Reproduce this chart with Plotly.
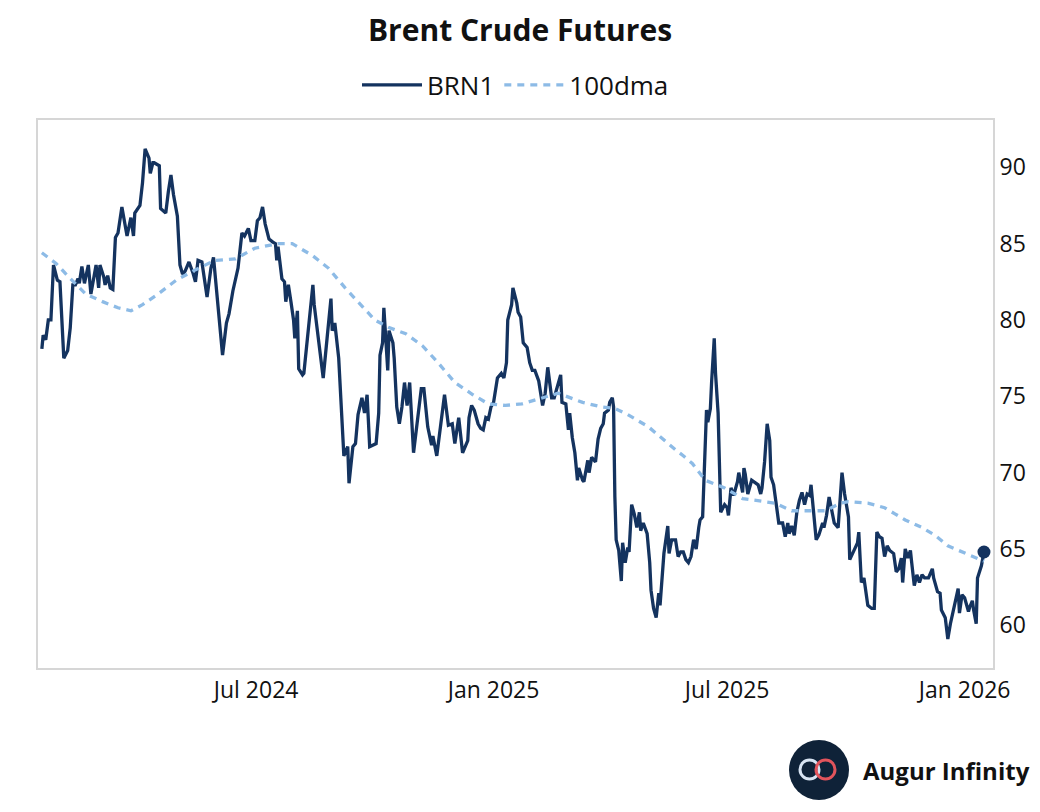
import pandas as pd
import plotly.graph_objects as go

# ---- data ----
# calendar-day offsets from 2024-01-01 for each BRN1 observation
brn_day = [
    16, 17, 19, 21, 23, 25, 28, 30, 33, 36, 38, 40, 42, 44, 45, 47, 49, 52, 54, 56,
    58, 60, 61, 64, 65, 67, 69, 71, 73, 75, 78, 82, 85, 87, 88, 92, 94, 96, 99, 100,
    102, 103, 107, 108, 112, 114, 116, 118, 121, 123, 125, 127, 130, 133, 135, 137, 140, 144, 147, 149,
    152, 156, 159, 161, 164, 166, 168, 171, 173, 176, 178, 181, 183, 185, 187, 189, 192, 195, 197, 198,
    199, 202, 204, 205, 207, 209, 211, 212, 214, 215, 218, 219, 222, 226, 227, 230, 234, 237, 240, 241,
    243, 246, 249, 250, 253, 254, 257, 259, 261, 264, 266, 268, 270, 273, 275, 277, 278, 280, 281, 284,
    285, 288, 289, 291, 293, 295, 297, 299, 301, 304, 307, 310, 312, 315, 318, 319, 322, 325, 328, 331,
    334, 336, 339, 342, 346, 347, 349, 351, 354, 356, 358, 360, 362, 364, 366, 369, 372, 374, 376, 377,
    380, 381, 384, 385, 387, 389, 392, 394, 396, 398, 401, 404, 406, 408, 411, 413, 416, 418, 419, 422,
    424, 425, 427, 429, 431, 432, 435, 436, 439, 440, 442, 445, 447, 449, 451, 452, 455, 456, 458, 459,
    460, 461, 463, 465, 466, 468, 470, 471, 473, 475, 477, 479, 480, 482, 485, 487, 488, 490, 492, 494,
    495, 497, 498, 501, 502, 504, 507, 509, 511, 513, 515, 517, 519, 521, 523, 525, 526, 528, 531, 532,
    534, 535, 537, 538, 540, 542, 545, 547, 548, 550, 552, 555, 556, 559, 560, 561, 563, 566, 569, 571,
    573, 574, 576, 578, 580, 581, 583, 584, 587, 590, 592, 594, 595, 597, 599, 601, 603, 605, 607, 609,
    611, 612, 614, 616, 618, 621, 622, 624, 626, 628, 630, 633, 635, 636, 638, 641, 642, 645, 648, 649,
    651, 653, 656, 659, 661, 663, 665, 667, 669, 671, 673, 676, 678, 680, 682, 683, 685, 687, 689, 690,
    692, 694, 696, 698, 700, 703, 704, 706, 707, 710, 712, 713, 716, 718, 720, 721, 724, 726, 727, 729,
    731, 734, 735, 737, 738, 740, 741, 743, 744, 746,
]
brn_val = [
    78.1, 79.0, 78.7, 80.0, 80.0, 83.6, 82.6, 82.5, 77.5, 78.0, 79.5, 82.3, 82.3, 82.7, 82.4, 83.5, 82.4, 83.6, 81.7, 82.8,
    83.6, 82.1, 83.6, 82.8, 82.3, 82.9, 82.1, 82.0, 85.4, 85.7, 87.4, 85.5, 86.7, 85.5, 87.0, 87.5, 89.0, 91.2, 90.6, 89.6,
    90.3, 90.3, 90.1, 87.3, 87.0, 88.4, 89.5, 88.2, 86.8, 83.6, 83.0, 83.2, 83.8, 83.1, 82.5, 83.9, 83.8, 81.5, 83.4, 84.1,
    81.1, 77.7, 79.8, 80.4, 81.9, 82.7, 83.4, 85.7, 85.5, 86.0, 85.2, 85.2, 86.5, 86.7, 87.4, 86.3, 85.3, 85.1, 85.0, 83.9,
    84.8, 82.7, 82.5, 81.2, 82.3, 81.2, 80.0, 78.8, 80.6, 76.8, 76.4, 76.5, 78.9, 82.3, 81.0, 79.1, 76.2, 78.8, 81.4, 79.3,
    79.8, 77.5, 72.8, 71.1, 71.7, 69.3, 71.7, 71.9, 73.8, 74.9, 73.9, 75.1, 71.7, 71.8, 71.9, 73.9, 77.7, 78.5, 80.8, 76.7,
    79.3, 78.5, 77.5, 74.3, 73.2, 74.3, 75.9, 74.4, 75.9, 71.3, 73.2, 75.5, 75.5, 73.0, 71.8, 72.4, 71.1, 73.0, 75.1, 73.1,
    73.2, 71.9, 73.6, 71.3, 72.1, 73.6, 74.4, 74.1, 73.2, 72.9, 72.8, 73.6, 73.5, 74.3, 74.6, 76.2, 76.5, 76.2, 77.2, 80.0,
    81.0, 82.1, 81.1, 80.5, 80.2, 78.5, 78.2, 77.2, 76.7, 76.7, 76.0, 74.4, 75.2, 76.9, 74.9, 74.9, 75.8, 76.4, 74.6, 74.5,
    72.8, 73.9, 72.3, 71.3, 69.5, 70.3, 69.5, 69.4, 70.8, 70.0, 71.0, 70.7, 72.2, 72.9, 73.2, 73.9, 74.1, 74.6, 74.9, 74.3,
    68.4, 65.6, 64.9, 62.9, 65.4, 64.1, 65.1, 64.8, 67.9, 67.3, 66.4, 67.4, 66.2, 66.7, 66.0, 64.1, 62.3, 61.1, 60.5, 62.1,
    61.3, 63.8, 64.7, 66.5, 64.7, 65.6, 65.6, 64.5, 64.8, 64.8, 64.3, 64.1, 64.5, 65.6, 65.0, 66.4, 66.9, 67.1, 74.1, 73.3,
    74.2, 76.0, 78.8, 76.5, 73.9, 67.4, 67.9, 67.7, 67.2, 69.0, 68.5, 69.4, 70.0, 68.7, 70.3, 69.9, 68.6, 69.5, 69.3, 69.2,
    68.6, 69.0, 70.7, 73.2, 72.1, 69.7, 69.2, 68.6, 66.7, 66.7, 65.8, 66.7, 66.0, 66.5, 65.9, 67.4, 68.2, 68.7, 67.9, 68.6,
    68.5, 69.2, 67.1, 65.6, 65.9, 66.7, 66.4, 67.2, 68.4, 67.4, 66.7, 66.4, 69.0, 70.0, 68.6, 67.1, 64.3, 64.9, 65.4, 66.1,
    62.8, 63.1, 61.3, 61.1, 61.1, 66.1, 65.8, 65.7, 64.5, 65.2, 64.9, 64.7, 63.5, 63.7, 64.4, 62.8, 65.0, 64.4, 64.9, 64.1,
    62.6, 63.3, 62.8, 63.3, 63.1, 63.1, 63.3, 63.7, 63.1, 62.2, 62.1, 61.0, 60.5, 59.1, 60.1, 60.5, 61.8, 62.4, 60.8, 62.0,
    61.8, 60.9, 61.2, 61.6, 61.0, 60.1, 63.1, 63.6, 63.9, 64.8,
]

# 100-day moving average
dma_day = [16, 27, 37, 50, 63, 75, 85, 94, 106, 120, 133, 150, 166, 181, 199, 210, 226, 238, 251, 261,
           274, 285, 298, 311, 323, 336, 350, 362, 375, 388, 404, 416, 435, 450, 460, 470, 486, 501, 507, 513,
           520, 530, 545, 559, 574, 584, 597, 610, 623, 635, 641, 656, 669, 677, 685, 698, 708, 718, 729, 741, 746]
dma_val = [84.4, 83.7, 82.8, 81.7, 81.2, 80.8, 80.6, 81.0, 81.7, 82.6, 83.2, 83.9, 84.0, 84.7, 85.0, 85.0, 84.2, 83.4, 82.1, 81.2,
           80.0, 79.5, 79.1, 78.3, 77.2, 75.9, 75.1, 74.5, 74.4, 74.5, 74.9, 75.2, 74.6, 74.3, 74.2, 73.8, 73.0, 71.9, 71.5, 71.1,
           70.6, 69.5, 69.0, 68.3, 68.1, 68.0, 67.5, 67.5, 67.5, 68.0, 68.1, 68.0, 67.7, 67.3, 66.9, 66.4, 65.9, 65.2, 64.8, 64.4, 64.2]

assert len(brn_day) == len(brn_val)
assert len(dma_day) == len(dma_val)

BASE = pd.Timestamp("2024-01-01")
brn_dates = BASE + pd.to_timedelta(brn_day, unit="D")
dma_dates = BASE + pd.to_timedelta(dma_day, unit="D")

NAVY = "#14335f"
LIGHT = "#8dbbe6"
FONT = "Open Sans"

fig = go.Figure()
fig.add_trace(go.Scatter(x=brn_dates, y=brn_val, mode="lines", name="BRN1",
                         line=dict(color=NAVY, width=3.3)))
fig.add_trace(go.Scatter(x=dma_dates, y=dma_val, mode="lines", name="100dma",
                         line=dict(color=LIGHT, width=3.3, dash="7px,6px")))
fig.add_trace(go.Scatter(x=[brn_dates[-1]], y=[brn_val[-1]], mode="markers", showlegend=False,
                         marker=dict(color=NAVY, size=13)))

fig.update_layout(
    width=1040, height=812,
    margin=dict(l=38, r=47, t=120, b=144),
    paper_bgcolor="white", plot_bgcolor="white",
    font=dict(family=FONT, color="#111111", size=22),
    title=dict(text="<b>Brent Crude Futures</b>", x=0.5, xanchor="center", y=1 - 30 / 812, yanchor="middle",
               font=dict(family=FONT, size=30, color="#111111")),
    legend=dict(orientation="h", x=0.5, xanchor="center", y=1.064, yanchor="middle",
                font=dict(size=26, color="#111111"), itemwidth=60, bgcolor="rgba(0,0,0,0)"),
    showlegend=True,
    xaxis=dict(range=["2024-01-14", "2026-01-23"], dtick="M6", tick0="2024-01-01", tickformat="%b %Y",
               showgrid=False, zeroline=False, showline=True, mirror=True, linecolor="#d6d6d6", linewidth=2,
               ticks="", tickfont=dict(size=23)),
    yaxis=dict(range=[57.2, 93.1], dtick=5, tick0=60, side="right", showgrid=False, zeroline=False,
               showline=True, mirror=True, linecolor="#d6d6d6", linewidth=2, ticks="",
               tickfont=dict(size=23)),
)

# Augur Infinity logo (bottom right)
fig.add_shape(type="circle", xref="paper", yref="paper",
              x0=(789 - 38) / 955, x1=(849 - 38) / 955, y0=(668 - 800) / 548, y1=(668 - 740) / 548,
              fillcolor="#0f2238", line=dict(width=0))
fig.add_shape(type="circle", xref="paper", yref="paper",
              x0=(800 - 38) / 955, x1=(819 - 38) / 955, y0=(668 - 779) / 548, y1=(668 - 760) / 548,
              fillcolor="rgba(0,0,0,0)", line=dict(width=3, color="#d8e4f3"))
fig.add_shape(type="circle", xref="paper", yref="paper",
              x0=(816 - 38) / 955, x1=(835 - 38) / 955, y0=(668 - 779) / 548, y1=(668 - 760) / 548,
              fillcolor="rgba(0,0,0,0)", line=dict(width=3, color="#e2545c"))
fig.add_annotation(xref="paper", yref="paper", x=(861 - 38) / 955, y=(668 - 770) / 548,
                   text="<b>Augur Infinity</b>", showarrow=False, font=dict(size=24, color="#111111", family=FONT),
                   xanchor="left", yanchor="middle")

fig.write_html("out.html", config={"displayModeBar": False},
               post_script="document.body.style.margin='0';")
